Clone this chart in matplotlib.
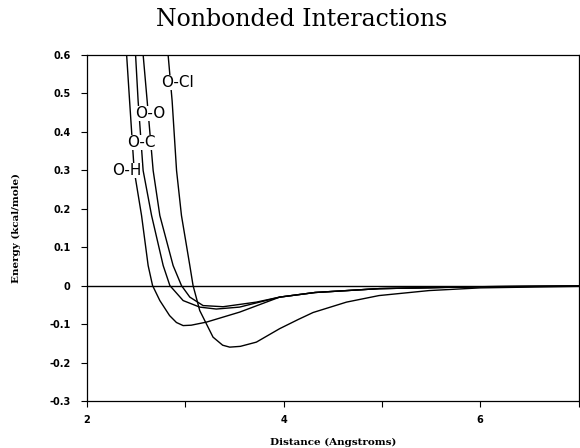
import matplotlib
matplotlib.use("Agg")
import matplotlib.pyplot as plt
from matplotlib.ticker import FixedLocator

# Data (distance in Angstroms, energy in kcal/mole)
oh_x = [2.403, 2.433, 2.480, 2.555, 2.622, 2.667, 2.741, 2.840, 2.910, 2.978, 3.060, 3.215, 3.553, 3.960, 4.320, 4.970, 6.000, 7.000]
oh_y = [0.600, 0.481, 0.299, 0.182, 0.052, 0.000, -0.039, -0.078, -0.096, -0.104, -0.103, -0.095, -0.069, -0.030, -0.018, -0.008, -0.003, -0.001]

oc_x = [2.494, 2.520, 2.571, 2.657, 2.775, 2.843, 2.978, 3.147, 3.315, 3.551, 3.960, 4.320, 4.970, 6.000, 7.000]
oc_y = [0.600, 0.480, 0.299, 0.182, 0.052, 0.000, -0.039, -0.056, -0.061, -0.056, -0.030, -0.018, -0.008, -0.003, -0.001]

oo_x = [2.571, 2.612, 2.673, 2.741, 2.876, 2.961, 3.046, 3.181, 3.384, 3.723, 3.960, 4.320, 4.970, 6.000, 7.000]
oo_y = [0.600, 0.480, 0.299, 0.182, 0.052, 0.000, -0.030, -0.052, -0.055, -0.043, -0.030, -0.018, -0.008, -0.003, -0.001]

ocl_x = [2.825, 2.866, 2.911, 2.961, 3.046, 3.079, 3.147, 3.282, 3.380, 3.452, 3.560, 3.723, 3.960, 4.150, 4.300, 4.640, 4.970, 5.480, 6.000, 7.000]
ocl_y = [0.600, 0.480, 0.299, 0.182, 0.052, 0.000, -0.065, -0.134, -0.155, -0.160, -0.158, -0.147, -0.112, -0.088, -0.070, -0.043, -0.026, -0.013, -0.006, -0.002]

labels = ["O-H", "O-C", "O-O", "O-Cl"]
label_x = [2.403, 2.556, 2.648, 2.918]
label_y = [0.299, 0.372, 0.447, 0.528]

x_major = [2, 4, 6]
x_minor = [3, 5, 7]
y_ticks = [-0.3, -0.2, -0.1, 0, 0.1, 0.2, 0.3, 0.4, 0.5, 0.6]
y_ticklabels = ["-0.3", "-0.2", "-0.1", "0", "0.1", "0.2", "0.3", "0.4", "0.5", "0.6"]

fig = plt.figure(figsize=(5.8, 4.48), dpi=100)
ax = fig.add_axes([87 / 580, 1 - 401 / 448, 491.5 / 580, (401 - 54.7) / 448])

for xs, ys in [(oh_x, oh_y), (oc_x, oc_y), (oo_x, oo_y), (ocl_x, ocl_y)]:
    ax.plot(xs, ys, color="black", lw=1.0)

ax.axhline(0, color="black", lw=1.0)

for t, lx, ly in zip(labels, label_x, label_y):
    ax.text(lx, ly, t, ha="center", va="center", fontsize=11,
            family="DejaVu Sans", color="black",
            bbox=dict(facecolor="white", edgecolor="none", pad=0.2))

ax.set_xlim(2, 7)
ax.set_ylim(-0.3, 0.6)
ax.xaxis.set_major_locator(FixedLocator(x_major))
ax.xaxis.set_minor_locator(FixedLocator(x_minor))
ax.set_yticks(y_ticks)
ax.set_yticklabels(y_ticklabels)

for lab in ax.get_xticklabels() + ax.get_yticklabels():
    lab.set_fontweight("bold")
    lab.set_fontsize(7)
    lab.set_family("DejaVu Sans")

ax.tick_params(axis="both", which="both", direction="out", length=4, width=0.8, color="black")
ax.tick_params(axis="y", pad=8)
ax.tick_params(axis="x", pad=6)

for s in ax.spines.values():
    s.set_linewidth(0.9)
    s.set_color("black")

ax.set_xlabel("Distance (Angstroms)", fontsize=7.5, fontweight="bold", family="DejaVu Serif", labelpad=9)
ax.set_ylabel("Energy (kcal/mole)", fontsize=7.5, fontweight="bold", family="DejaVu Serif", labelpad=20)

fig.text(301.7 / 580, 1 - 20 / 448, "Nonbonded Interactions", ha="center", va="center",
         fontsize=17, family="DejaVu Serif")

fig.savefig("out.png", dpi=100)
